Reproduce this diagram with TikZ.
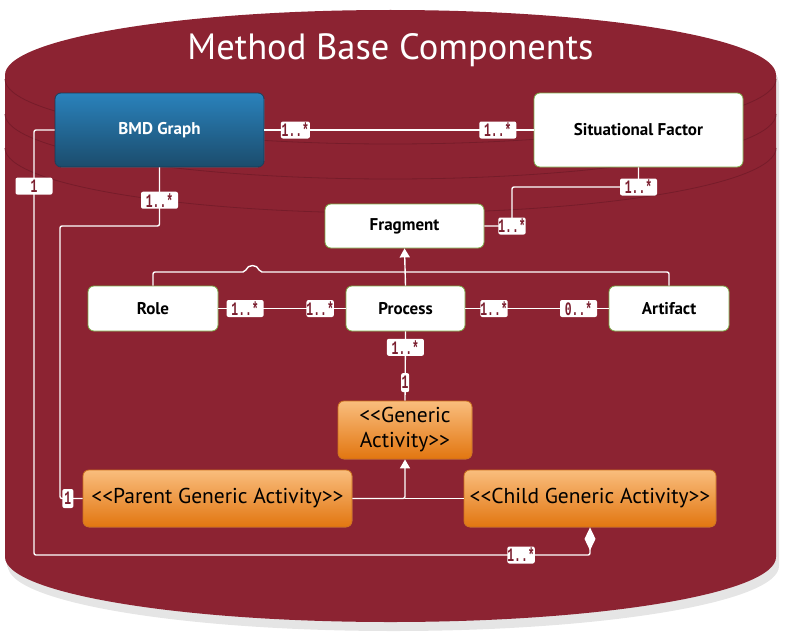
\documentclass[tikz,border=0pt]{standalone}
\usepackage{fontspec}
\setmainfont{PT Sans}
\newfontfamily\multfont[FakeStretch=0.6]{Liberation Mono}
\usepackage{tikz}
\usetikzlibrary{arrows.meta}

\definecolor{basered}{RGB}{140,35,50}
\definecolor{rimred}{RGB}{118,28,42}
\definecolor{multred}{RGB}{122,30,46}
\definecolor{leafgreen}{RGB}{125,175,75}
\definecolor{bmdtop}{RGB}{42,130,188}
\definecolor{bmdbottom}{RGB}{27,76,108}
\definecolor{bmdline}{RGB}{24,58,86}
\definecolor{acttop}{RGB}{249,189,125}
\definecolor{actbottom}{RGB}{226,118,16}
\definecolor{actline}{RGB}{204,112,28}

\newcommand{\drumoutline}{(5,75) .. controls (5,39.1) and (177.6,10) .. (390.5,10)
    .. controls (603.4,10) and (776,39.1) .. (776,75) -- (776,557)
    .. controls (776,592.9) and (603.4,622) .. (390.5,622)
    .. controls (177.6,622) and (5,592.9) .. (5,557) -- cycle}

\begin{document}
\begin{tikzpicture}[
                    x=1pt, y=-1pt,
                    box/.style={rectangle, rounded corners=6pt, draw=leafgreen, fill=white,
                        line width=0.8pt, text=black, font=\bfseries\fontsize{17}{20}\selectfont},
                    bluebox/.style={box, draw=bmdline, top color=bmdtop, bottom color=bmdbottom,
                        text=white},
                    orangebox/.style={box, draw=actline, top color=acttop, bottom color=actbottom,
                        font=\fontsize{21.5}{25}\selectfont},
                    link/.style={draw=white, line width=1.4pt, rounded corners=2pt},
                    gen/.style={link, -{Triangle[width=10pt,length=9pt]}},
                    part/.style={link, -{Diamond[width=11pt,length=23pt]}},
                    mult/.style={fill=white, text=multred, inner sep=0pt, minimum width=37pt,
                        minimum height=17pt, font=\multfont\bfseries\fontsize{19}{17}\selectfont},
                    tight/.style={mult, minimum width=26pt},
                    one/.style={mult, minimum width=9pt, minimum height=19pt}
                ]
                \useasboundingbox (0,0) rectangle (791,634);
                \fill[black!18, shift={(2,6)}] \drumoutline;
                \fill[black!10, shift={(3,9)}] \drumoutline;
                \fill[basered] \drumoutline;
                \foreach \c in {79,114,148}
                    \draw[rimred, line width=0.8pt] (5,\c) .. controls (5,\c+35.9) and (177.6,\c+65) .. (390.5,\c+65)
                        .. controls (603.4,\c+65) and (776,\c+35.9) .. (776,\c);

                \node[text=white, font=\fontsize{36.5}{40}\selectfont] (title) at (390.5,50) {Method Base Components};

                \node[bluebox, minimum width=209pt, minimum height=74pt] (bmd) at (159.5,130) {BMD Graph};
                \node[box, minimum width=209pt, minimum height=74pt] (sf) at (638.5,130) {Situational Factor};
                \node[box, minimum width=159pt, minimum height=44pt] (frag) at (404.5,226) {Fragment};
                \node[box, minimum width=130pt, minimum height=45pt] (role) at (153,308.5) {Role};
                \node[box, minimum width=119pt, minimum height=45pt] (proc) at (405.5,308.5) {Process};
                \node[box, minimum width=120pt, minimum height=45pt] (art) at (669,308.5) {Artifact};
                \node[orangebox, minimum width=134pt, minimum height=58pt, align=center] (gen) at (405,430) {<{}<Generic\\Activity>{}>};
                \node[orangebox, minimum width=269pt, minimum height=57pt] (parent) at (217.5,498.5) {<{}<Parent Generic Activity>{}>};
                \node[orangebox, minimum width=252pt, minimum height=57pt] (child) at (590,498.5) {<{}<Child Generic Activity>{}>};

                \coordinate (outer) at (34,555);
                \coordinate (inner) at (60,226);
                \coordinate (sfbend) at (512,187);
                \coordinate (hop) at (245,272);
                \coordinate (hopend) at (260,272);
                \coordinate (junction) at (405,272);
                \coordinate (fork) at (405,498.5);

                \path[link]
                (bmd.east) edge node[tight, minimum width=29pt, pos=0.115] {1..*} node[mult, pos=0.867] {1..*} (sf.west)
                (role.east) edge node[mult, pos=0.21] {1..*} node[tight, pos=0.8] {1..*} (proc.west)
                (proc.east) edge node[tight, pos=0.2] {1..*} node[mult, pos=0.79] {0..*} (art.west)
                (proc.south) edge node[mult, pos=0.23] {1..*} node[one, minimum width=8pt, pos=0.74] {1} (gen.north)
                (proc.north) edge[gen] (frag.south)
                ;

                \draw[part] (bmd.west) -| node[mult, pos=0.566] {1} (outer) -| node[tight, pos=0.438] {1..*} (child.south);
                \draw[link] (bmd.south) |- node[mult, pos=0.28] {1..*} (inner) |- node[one, minimum width=11pt, pos=0.674] {1} (parent.west);
                \draw[link] (sf.south) |- node[mult, pos=0.5] {1..*} (sfbend) |- node[tight, pos=0.5] {1..*} (frag.east);
                \draw[link] (role.north) |- (hop) .. controls (248,264) and (257,264) .. (hopend) -- (junction);
                \draw[link] (art.north) |- (junction);
                \draw[gen] (parent.east) -| (gen.south);
                \draw[link] (child.west) -- (fork);
            \end{tikzpicture}
\end{document}
